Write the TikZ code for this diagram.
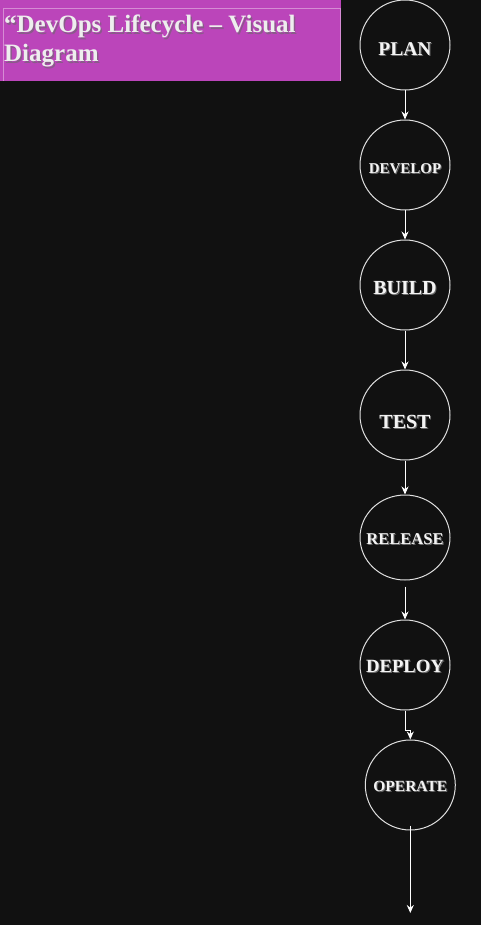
\documentclass[tikz,border=0pt]{standalone}
\usepackage{fontspec}
\setmainfont{Liberation Serif}
\usetikzlibrary{arrows.meta,shapes.geometric}
\definecolor{bg}{HTML}{111111}
\definecolor{ring}{HTML}{E0E0E0}
\definecolor{txt}{HTML}{F4F4F4}
\definecolor{titlebg}{HTML}{BB45BA}
\definecolor{titleedge}{HTML}{D68CD4}
\definecolor{titletxt}{HTML}{EEEEEE}
\definecolor{tshadow}{HTML}{8A5A8A}
\definecolor{lshadow}{HTML}{6A6A6A}
\begin{document}
\begin{tikzpicture}[x=1pt,y=-1pt,
  stage/.style={circle,draw=ring,line width=1pt,minimum size=90pt,inner sep=0pt},
  flow/.style={draw=white,line width=1pt,-{Stealth[length=8pt,width=7pt]}},
  lbl/.style={text=txt,anchor=base,inner sep=0pt,font=\bfseries\fontsize{#1}{#1}\selectfont},
  lblsh/.style={text=lshadow,anchor=base,inner sep=0pt,font=\bfseries\fontsize{#1}{#1}\selectfont},
  ttl/.style={text=titletxt,anchor=base west,inner sep=0pt,font=\bfseries\fontsize{25}{29}\selectfont},
  ttlsh/.style={text=tshadow,anchor=base west,inner sep=0pt,font=\bfseries\fontsize{25}{29}\selectfont}]
\fill[bg] (0,0) rectangle (481,925);
\useasboundingbox (0,0) rectangle (481,925);
% title box
\fill[titlebg] (0,0) rectangle (341,81);
\draw[titleedge,line width=0.8pt] (3,8) -- (340,8) -- (340,81);
\draw[titleedge,line width=0.8pt] (3,8) -- (3,81);
\node[ttlsh] (t1s) at (5.5,34.5) {“DevOps Lifecycle – Visual};
\node[ttlsh] (t2s) at (5.5,63.5) {Diagram};
\node[ttl] (t1) at (4,33) {“DevOps Lifecycle – Visual};
\node[ttl] (t2) at (4,62) {Diagram};
% stages
\node[stage] (plan) at (405,45) {};
\node[stage] (dev) at (405,165) {};
\node[stage] (build) at (405,285) {};
\node[stage] (test) at (405,415) {};
\node[stage,ellipse,minimum width=90pt,minimum height=85pt] (rel) at (405,537.5) {};
\node[stage] (dep) at (405,665) {};
\node[stage] (op) at (410.3,785) {};
% labels
\node[lblsh=19.5] (lplans) at (406,57) {PLAN};
\node[lbl=19.5] (lplan) at (405,56) {PLAN};
\node[lblsh=15] (ldevs) at (406,175) {DEVELOP};
\node[lbl=15] (ldev) at (405,174) {DEVELOP};
\node[lblsh=20] (lbuilds) at (406,295) {BUILD};
\node[lbl=20] (lbuild) at (405,294) {BUILD};
\node[lblsh=20] (ltests) at (406,429) {TEST};
\node[lbl=20] (ltest) at (405,428) {TEST};
\node[lblsh=16.5] (lrels) at (406,545) {RELEASE};
\node[lbl=16.5] (lrel) at (405,544) {RELEASE};
\node[lblsh=18.7] (ldeps) at (406,673) {DEPLOY};
\node[lbl=18.7] (ldep) at (405,672) {DEPLOY};
\node[lblsh=15.5] (lops) at (411.3,792.7) {OPERATE};
\node[lbl=15.5] (lop) at (410.3,791.7) {OPERATE};
% connectors
\draw[flow] (plan.south) -- (dev.north);
\draw[flow] (dev.south) -- (build.north);
\draw[flow] (build.south) -- (test.north);
\draw[flow] (test.south) -- (rel.north);
\draw[flow,shorten <=6pt] (rel.south) -- (dep.north);
\draw[flow] (dep.south) -- ++(0,20) -| (op.north);
\coordinate (end) at (410.3,913);
\draw[flow] ([yshift=5pt]op.south) -- (end);
\end{tikzpicture}
\end{document}
